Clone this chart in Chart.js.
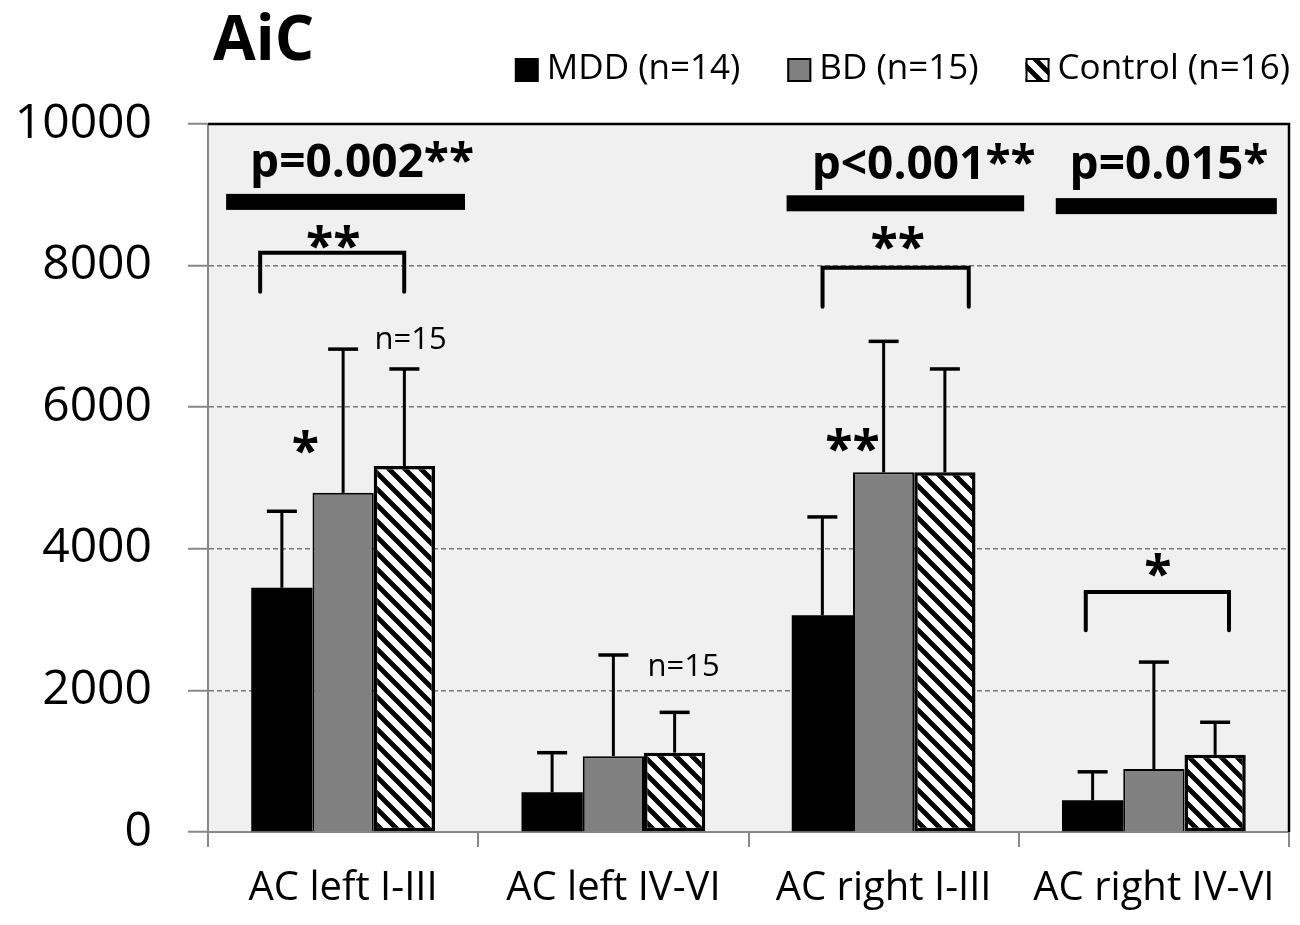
<!DOCTYPE html>
<html>
<head>
<meta charset="utf-8">
<title>AiC</title>
<script src="https://cdn.jsdelivr.net/npm/chart.js@4.4.1/dist/chart.umd.min.js"></script>
<style>
  html, body { margin: 0; padding: 0; background: #fff; }
  #wrap { width: 1300px; height: 925px; }
</style>
</head>
<body>
<div id="wrap"><canvas id="aicChart" width="1300" height="925"></canvas></div>
<script>
// categories and series (mean and upper end of the error bar)
const categories = ['AC left I-III', 'AC left IV-VI', 'AC right I-III', 'AC right IV-VI'];
const seriesNames = ['MDD (n=14)', 'BD (n=15)', 'Control (n=16)'];
const mddMean = [3450, 560, 3060, 450];
const mddUpper = [4530, 1120, 4450, 850];
const bdMean = [4790, 1070, 5080, 890];
const bdUpper = [6820, 2500, 6930, 2400];
const ctrlMean = [5170, 1120, 5080, 1090];
const ctrlUpper = [6540, 1690, 6540, 1550];
const yTicks = [0, 2000, 4000, 6000, 8000, 10000];

// significance marks, placed in category / value space
const groupTests = [
  { text: 'p=0.002**', cat: 0, from: -0.433, to: 0.451, textAt: 0.07, y: 8900, textY: 9250 },
  { text: 'p<0.001**', cat: 2, from: -0.359, to: 0.52, textAt: 0.148, y: 8880, textY: 9220 },
  { text: 'p=0.015*', cat: 3, from: -0.363, to: 0.455, textAt: 0.056, y: 8840, textY: 9220 }
];
const brackets = [
  { cat: 0, from: -0.307, to: 0.226, top: 8180, bottom: 7630, stars: '**', starsAt: -0.037, starsY: 8400 },
  { cat: 2, from: -0.226, to: 0.315, top: 7970, bottom: 7420, stars: '**', starsAt: 0.052, starsY: 8390 },
  { cat: 3, from: -0.252, to: 0.278, top: 3390, bottom: 2850, stars: '*', starsAt: 0.015, starsY: 3770 }
];
const barNotes = [
  { text: '*', cat: 0, at: -0.14, y: 5510, bold: true },
  { text: '**', cat: 2, at: -0.115, y: 5540, bold: true },
  { text: 'n=15', cat: 0, at: 0.25, y: 6980, bold: false },
  { text: 'n=15', cat: 1, at: 0.26, y: 2360, bold: false }
];

const FONT = '"Open Sans", "DejaVu Sans", sans-serif';

function hatchPattern() {
  const s = 16;
  const c = document.createElement('canvas');
  c.width = s;
  c.height = s;
  const g = c.getContext('2d');
  g.fillStyle = '#fff';
  g.fillRect(0, 0, s, s);
  g.strokeStyle = '#000';
  g.lineWidth = 4.8;
  g.beginPath();
  for (const k of [-s, 0, s]) {
    g.moveTo(k - 2, -2);
    g.lineTo(k + s + 2, s + 2);
  }
  g.stroke();
  return g.createPattern(c, 'repeat');
}

function catX(xs, cat, off) {
  const w = xs.width / categories.length;
  return xs.getPixelForValue(cat) + off * w;
}

function centeredText(ctx, text, x, y) {
  ctx.textAlign = 'center';
  ctx.textBaseline = 'alphabetic';
  const m = ctx.measureText(text);
  ctx.fillText(text, x, y + (m.actualBoundingBoxAscent - m.actualBoundingBoxDescent) / 2);
}

// light grey plot background
const plotBackground = {
  id: 'plotBackground',
  beforeDraw(chart) {
    const { ctx, chartArea: a } = chart;
    ctx.save();
    ctx.fillStyle = '#f0f0f0';
    ctx.fillRect(a.left, a.top, a.right - a.left, a.bottom - a.top);
    ctx.restore();
  }
};

// one-sided (upper) error bars
const errorBars = {
  id: 'errorBars',
  afterDatasetsDraw(chart) {
    const { ctx } = chart;
    const ys = chart.scales.y;
    ctx.save();
    ctx.strokeStyle = '#000';
    chart.data.datasets.forEach((ds, i) => {
      chart.getDatasetMeta(i).data.forEach((bar, j) => {
        const top = ys.getPixelForValue(ds.errorUpper[j]);
        ctx.lineWidth = 3;
        ctx.beginPath();
        ctx.moveTo(bar.x, bar.y);
        ctx.lineTo(bar.x, top);
        ctx.stroke();
        ctx.lineWidth = 3.5;
        ctx.beginPath();
        ctx.moveTo(bar.x - 15, top);
        ctx.lineTo(bar.x + 15, top);
        ctx.stroke();
      });
    });
    ctx.restore();
  }
};

// frame, title, legend and significance marks
const decorations = {
  id: 'decorations',
  afterDraw(chart) {
    const { ctx, chartArea: a } = chart;
    const xs = chart.scales.x;
    const ys = chart.scales.y;
    ctx.save();

    // black frame on top and right
    ctx.strokeStyle = '#000';
    ctx.lineWidth = 2.5;
    ctx.beginPath();
    ctx.moveTo(a.left, a.top);
    ctx.lineTo(a.right, a.top);
    ctx.lineTo(a.right, a.bottom);
    ctx.stroke();

    // title
    ctx.fillStyle = '#000';
    ctx.font = 'bold 62px ' + FONT;
    ctx.textAlign = 'left';
    ctx.textBaseline = 'alphabetic';
    ctx.fillText('AiC', 213, 60);

    // legend, right aligned
    ctx.font = '35px ' + FONT;
    let end = 1290;
    const boxSize = 24;
    for (let i = chart.data.datasets.length - 1; i >= 0; i--) {
      const ds = chart.data.datasets[i];
      const tw = ctx.measureText(ds.label).width;
      const tx = end - tw;
      const bx = tx - 8 - boxSize;
      ctx.fillStyle = ds.backgroundColor;
      ctx.fillRect(bx, 58, boxSize, boxSize);
      if (ds.borderWidth) {
        ctx.strokeStyle = '#000';
        ctx.lineWidth = 2;
        ctx.strokeRect(bx + 1, 59, boxSize - 2, boxSize - 2);
      }
      ctx.fillStyle = '#000';
      ctx.textAlign = 'left';
      ctx.textBaseline = 'alphabetic';
      ctx.fillText(ds.label, tx, 79);
      end = bx - 47;
    }

    // group tests: thick bar with p value
    groupTests.forEach(t => {
      const y = ys.getPixelForValue(t.y);
      ctx.fillStyle = '#000';
      ctx.fillRect(catX(xs, t.cat, t.from), y - 8, catX(xs, t.cat, t.to) - catX(xs, t.cat, t.from), 16);
      ctx.font = 'bold 46px ' + FONT;
      ctx.textAlign = 'center';
      ctx.textBaseline = 'alphabetic';
      ctx.fillText(t.text, catX(xs, t.cat, t.textAt), ys.getPixelForValue(t.textY));
    });

    // pairwise brackets
    brackets.forEach(b => {
      const x1 = catX(xs, b.cat, b.from);
      const x2 = catX(xs, b.cat, b.to);
      const yt = ys.getPixelForValue(b.top);
      const yb = ys.getPixelForValue(b.bottom);
      ctx.strokeStyle = '#000';
      ctx.lineWidth = 4;
      ctx.lineJoin = 'miter';
      ctx.lineCap = 'round';
      ctx.beginPath();
      ctx.moveTo(x1, yb);
      ctx.lineTo(x1, yt);
      ctx.lineTo(x2, yt);
      ctx.lineTo(x2, yb);
      ctx.stroke();
      ctx.fillStyle = '#000';
      ctx.font = 'bold 50px ' + FONT;
      centeredText(ctx, b.stars, catX(xs, b.cat, b.starsAt), ys.getPixelForValue(b.starsY));
    });

    // notes over single bars
    barNotes.forEach(n => {
      ctx.fillStyle = '#000';
      ctx.font = (n.bold ? 'bold 50px ' : '31px ') + FONT;
      centeredText(ctx, n.text, catX(xs, n.cat, n.at), ys.getPixelForValue(n.y));
    });

    ctx.restore();
  }
};

new Chart(document.getElementById('aicChart').getContext('2d'), {
  type: 'bar',
  data: {
    labels: categories,
    datasets: [
      {
        label: seriesNames[0],
        data: mddMean,
        errorUpper: mddUpper,
        backgroundColor: '#000',
        borderColor: '#000',
        borderWidth: 0
      },
      {
        label: seriesNames[1],
        data: bdMean,
        errorUpper: bdUpper,
        backgroundColor: '#808080',
        borderColor: '#000',
        borderWidth: 2
      },
      {
        label: seriesNames[2],
        data: ctrlMean,
        errorUpper: ctrlUpper,
        backgroundColor: hatchPattern(),
        borderColor: '#000',
        borderWidth: 3.5,
        borderSkipped: false
      }
    ]
  },
  options: {
    responsive: false,
    animation: false,
    layout: { padding: { top: 124, right: 11, left: 0, bottom: 0 } },
    datasets: {
      bar: { categoryPercentage: 0.68, barPercentage: 1.0 }
    },
    plugins: {
      legend: { display: false },
      title: { display: false },
      tooltip: { enabled: false }
    },
    scales: {
      x: {
        ticks: { color: '#000', font: { family: FONT, size: 40 }, padding: 18 },
        grid: { offset: true, drawOnChartArea: false, drawTicks: true, tickLength: 15, color: '#888', lineWidth: 2 },
        border: { color: '#888', width: 2 },
        afterFit(scale) { scale.height = 93; }
      },
      y: {
        min: 0,
        max: 10000,
        afterBuildTicks(scale) { scale.ticks = yTicks.map(v => ({ value: v })); },
        ticks: { color: '#000', font: { family: FONT, size: 48 }, padding: 36, callback: v => String(v) },
        grid: { color: '#777', lineWidth: 1.5, tickColor: '#888', tickLength: 20, tickWidth: 2, tickBorderDash: [] },
        border: { color: '#888', width: 2, dash: [5, 3] },
        afterFit(scale) { scale.width = 208; }
      }
    }
  },
  plugins: [plotBackground, errorBars, decorations]
});
</script>
</body>
</html>
